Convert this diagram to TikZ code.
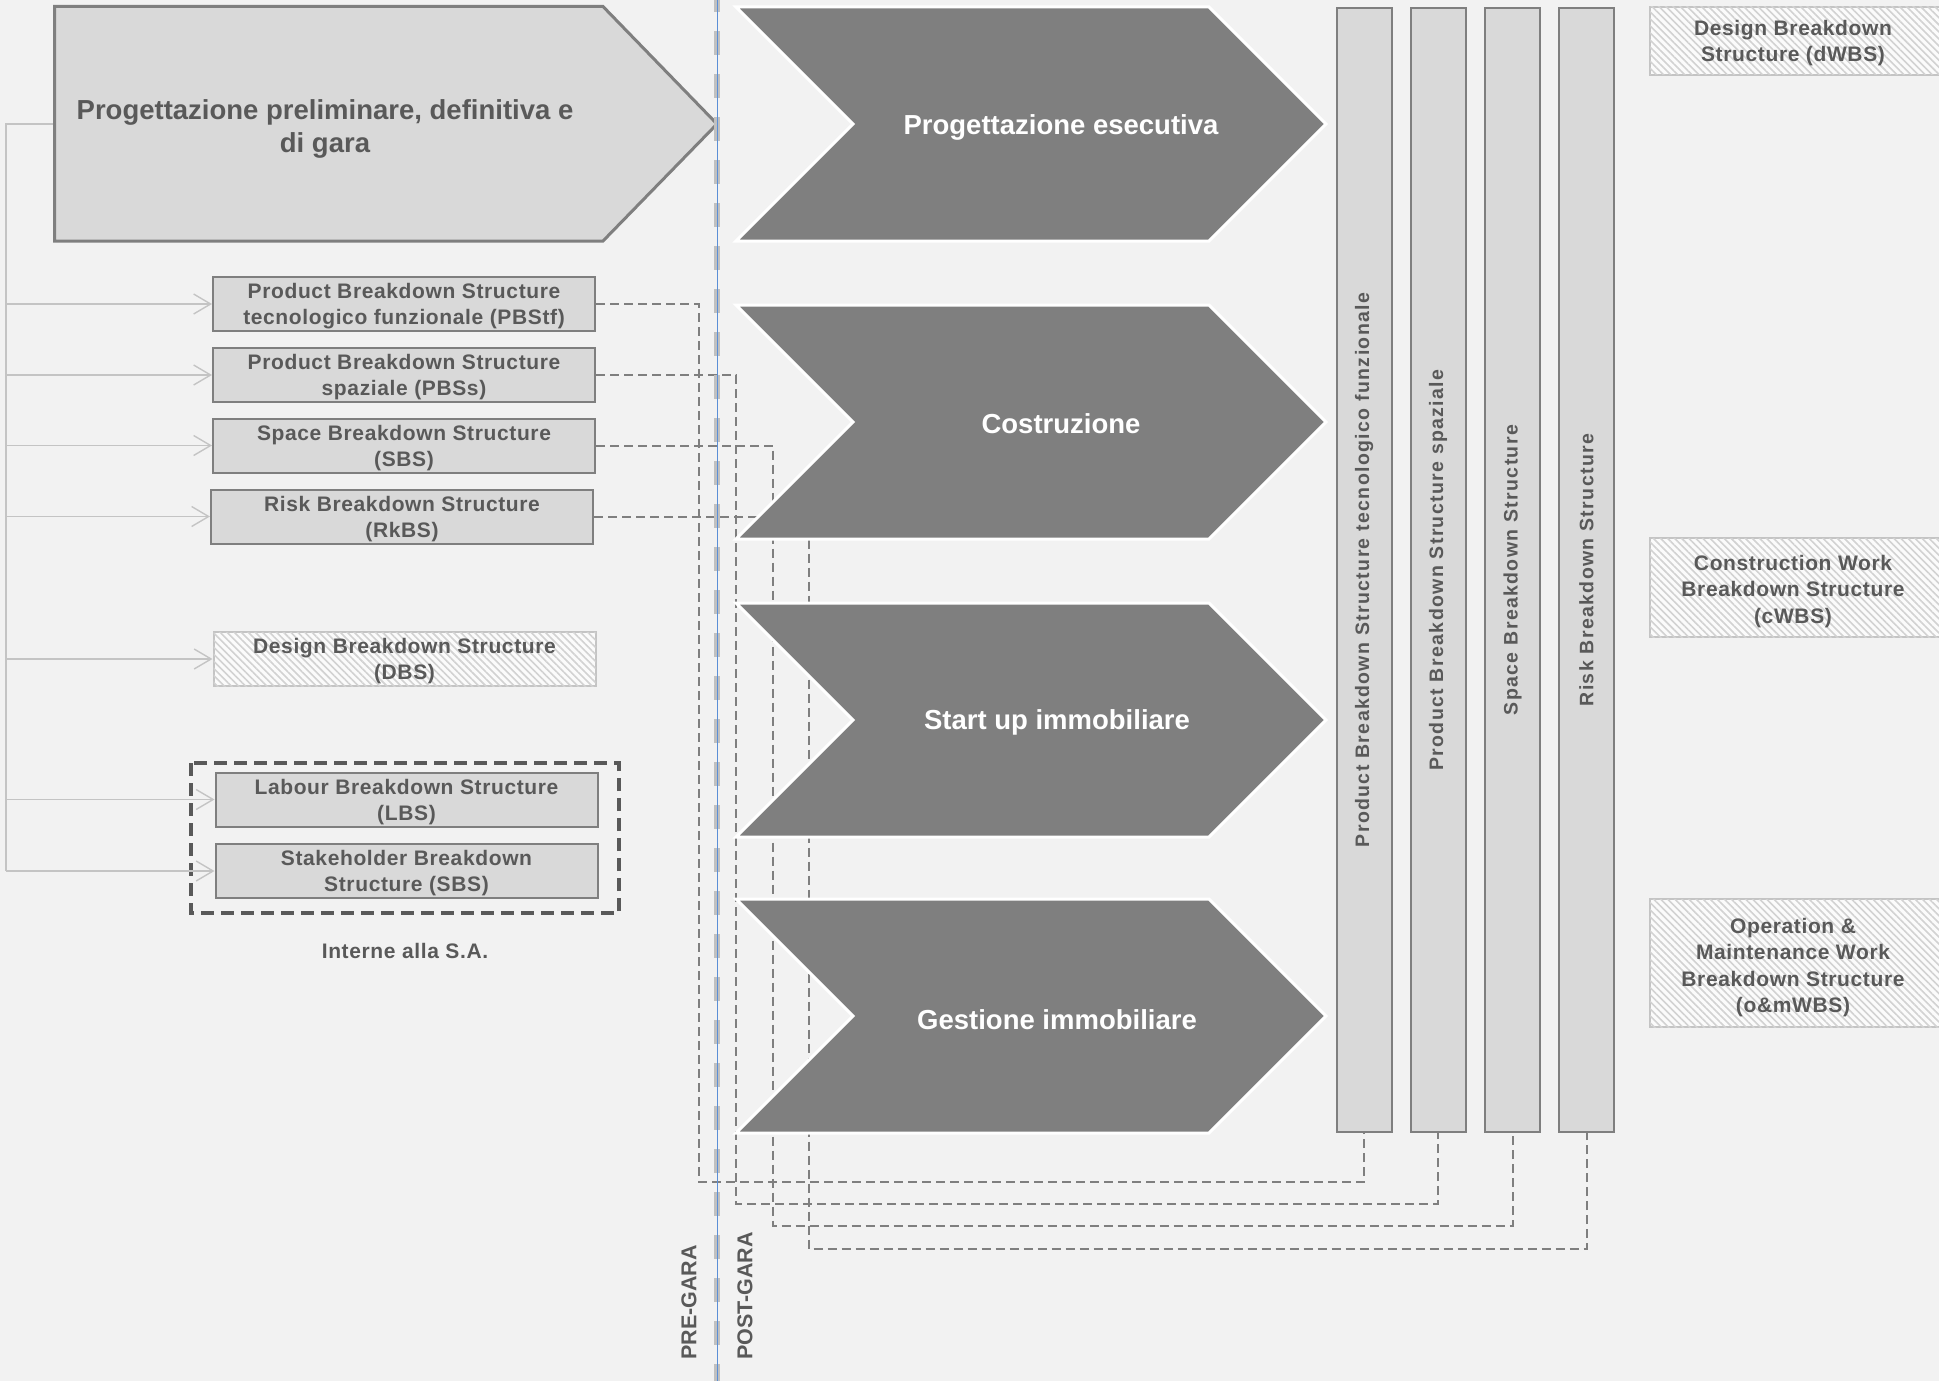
\documentclass[tikz,border=0pt]{standalone}
\usepackage{fontspec}
\setmainfont{Liberation Sans}
\newfontfamily\lblfont[LetterSpace=3]{Liberation Sans}
\newfontfamily\colfont[LetterSpace=7]{Liberation Sans}
\usetikzlibrary{arrows.meta,patterns.meta}
\definecolor{bgcol}{HTML}{F2F2F2}
\definecolor{boxfill}{HTML}{D9D9D9}
\definecolor{boxline}{HTML}{7F7F7F}
\definecolor{txtcol}{HTML}{595959}
\definecolor{thincol}{HTML}{C4C4C4}
\definecolor{hatchcol}{HTML}{D2D2D2}
\definecolor{garacol}{HTML}{C0C0C0}
\definecolor{garablue}{HTML}{5B8FD6}

\begin{document}
\begin{tikzpicture}[x=1pt,y=-1pt]
\tikzstyle{every node}+=[inner sep=0pt]
\tikzstyle{wbox}=[draw=boxline,fill=boxfill,line width=2pt,minimum width=382pt,minimum height=54pt,text depth=-3pt,align=center,text=txtcol,font=\lblfont\bfseries\fontsize{21}{26}\selectfont]
\tikzstyle{hatched}=[draw=thincol,line width=2pt,fill=white!70!bgcol,postaction={pattern={Lines[angle=-45,distance=5pt,line width=1.6pt]},pattern color=hatchcol}]
\tikzstyle{hbox}=[wbox,hatched]
\tikzstyle{lbl}=[align=center,text=txtcol,font=\lblfont\bfseries\fontsize{21}{26.5}\selectfont]
\tikzstyle{colbox}=[draw=boxline,fill=boxfill,line width=2pt,rotate=90,minimum width=1124pt,minimum height=55pt,text=txtcol,font=\colfont\bfseries\fontsize{19.5}{24}\selectfont]
\tikzstyle{phase}=[fill=boxline,draw=white,line width=3pt]
\tikzstyle{phasetxt}=[text=white,align=center,font=\bfseries\fontsize{27.5}{33}\selectfont]
\tikzstyle{thinline}=[draw=thincol,line width=1.4pt]
\tikzstyle{dashline}=[draw=boxline,line width=2pt,dash pattern=on 9pt off 5pt]
\tikzstyle{garatxt}=[rotate=90,anchor=west,text=txtcol,font=\bfseries\fontsize{21.5}{26}\selectfont]
\useasboundingbox (0,0) rectangle (1939,1381);
\fill[bgcol] (0,0) rectangle (1939,1381);
\node[wbox] (pbstf) at (404,304) {Product Breakdown Structure\\tecnologico funzionale (PBStf)};
\node[wbox] (pbss) at (404,375) {Product Breakdown Structure\\spaziale (PBSs)};
\node[wbox] (sbs) at (404,445.5) {Space Breakdown Structure\\(SBS)};
\node[wbox] (rkbs) at (402,516.5) {Risk Breakdown Structure\\(RkBS)};
\node[hbox] (dbs) at (404.5,659) {Design Breakdown Structure\\(DBS)};
\node[wbox] (lbs) at (406.5,799.5) {Labour Breakdown Structure\\(LBS)};
\node[wbox] (stk) at (406.5,871) {Stakeholder Breakdown\\Structure (SBS)};
\draw[draw=txtcol,line width=4pt,dash pattern=on 13pt off 7pt] (191,763) rectangle (619,913);
\node[lbl] (interne) at (405,951) {Interne alla S.A.};
\node[colbox] (colA) at (1364,570) {Product Breakdown Structure tecnologico funzionale};
\node[colbox] (colB) at (1438,570) {Product Breakdown Structure spaziale};
\node[colbox] (colC) at (1512.5,570) {Space Breakdown Structure};
\node[colbox] (colD) at (1586.5,570) {Risk Breakdown Structure};
\draw[dashline] (pbstf.east) -| (699,1182) -| (colA.west);
\draw[dashline] (pbss.east) -| (736,1204) -| (colB.west);
\draw[dashline] (sbs.east) -| (773,1226) -| (colC.west);
\draw[dashline] (rkbs.east) -| (809,1249) -| (colD.west);
\coordinate (src) at (54.5,124);
\coordinate (trunk) at (6,124);
\draw[thinline] (src) -- (trunk) -- (trunk |- stk.west);
\foreach \b in {pbstf,pbss,sbs,rkbs,dbs,lbs,stk}
  \draw[thinline,-{Straight Barb[length=17pt,width=20pt]}] (trunk |- \b.west) -- (\b.west);
\draw[line width=3pt,draw=boxline,fill=boxfill] (54.5,6.5) -- (603,6.5) -- (717,124) -- (603,241) -- (54.5,241) -- cycle;
\node[align=center,text=txtcol,font=\bfseries\fontsize{27.5}{33}\selectfont] (prel) at (325,129) {Progettazione preliminare, definitiva e\\di gara};
\draw[phase] (736,7) -- (1209,7) -- (1326,124) -- (1209,241) -- (736,241) -- (853,124) -- cycle;
\draw[phase] (736,305) -- (1209,305) -- (1326,422) -- (1209,539) -- (736,539) -- (853,422) -- cycle;
\draw[phase] (736,603) -- (1209,603) -- (1326,720) -- (1209,837) -- (736,837) -- (853,720) -- cycle;
\draw[phase] (736,899) -- (1209,899) -- (1326,1016) -- (1209,1133) -- (736,1133) -- (853,1016) -- cycle;
\node[phasetxt] (esec) at (1061,127) {Progettazione esecutiva};
\node[phasetxt] (costr) at (1061,424) {Costruzione};
\node[phasetxt] (startup) at (1057,722.5) {Start up immobiliare};
\node[phasetxt] (gest) at (1057,1019.5) {Gestione immobiliare};
\draw[hatched] (1650,7) rectangle (1950,75);
\node[lbl] (dwbs) at (1793,43) {Design Breakdown\\Structure (dWBS)};
\draw[hatched] (1650,538) rectangle (1950,637);
\node[lbl] (cwbs) at (1793,591.5) {Construction Work\\Breakdown Structure\\(cWBS)};
\draw[hatched] (1650,899) rectangle (1950,1027);
\node[lbl] (omwbs) at (1793,967.5) {Operation \&\\Maintenance Work\\Breakdown Structure\\(o\&mWBS)};
\coordinate (garatop) at (717,0);
\coordinate (garabot) at (717,1381);
\draw[garacol,line width=6pt,dash pattern=on 24pt off 19pt,dash phase=12pt] (garatop) -- (garabot);
\draw[garablue,line width=1pt] (garatop) -- (garabot);
\node[garatxt] (pre) at (689,1360) {PRE-GARA};
\node[garatxt] (post) at (745,1360) {POST-GARA};
\end{tikzpicture}
\end{document}
